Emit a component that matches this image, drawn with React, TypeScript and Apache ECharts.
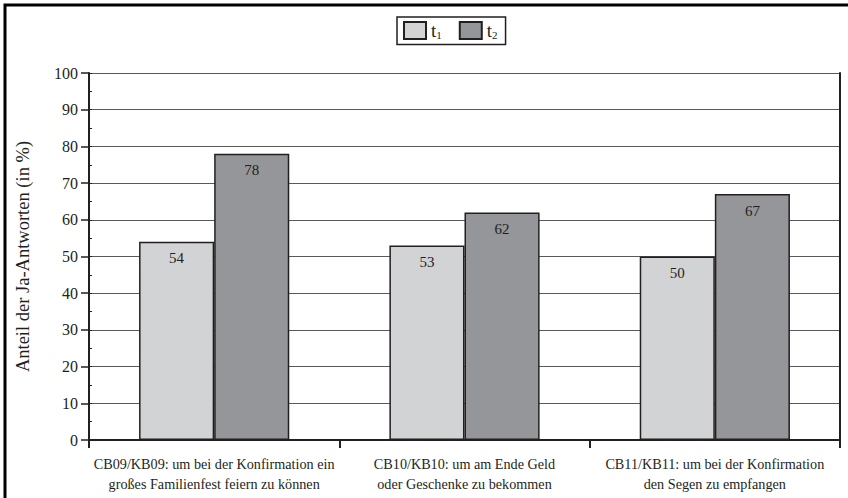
import React, { useEffect, useRef } from "react";
import * as echarts from "echarts";

const categories = [
  "CB09/KB09: um bei der Konfirmation ein\ngroßes Familienfest feiern zu können",
  "CB10/KB10: um am Ende Geld\noder Geschenke zu bekommen",
  "CB11/KB11: um bei der Konfirmation\nden Segen zu empfangen",
];
const seriesNames = ["t1", "t2"];
const t1Values = [54, 53, 50];
const t2Values = [78, 62, 67];
const yTitle = "Anteil der Ja-Antworten (in %)";

const FONT = "Liberation Serif";
const INK = "#231f20";

export default function App() {
  const ref = useRef<HTMLDivElement>(null);
  useEffect(() => {
    if (!ref.current) return;
    const chart = echarts.init(ref.current, null, { renderer: "svg" });
    const labelCfg = {
      show: true,
      position: "insideTop",
      distance: 9,
      color: INK,
      fontFamily: FONT,
      fontSize: 15,
    };
    chart.setOption({
      animation: false,
      backgroundColor: "#ffffff",
      textStyle: { fontFamily: FONT, color: INK },
      graphic: [
        {
          type: "rect",
          shape: { x: 5, y: 5, width: 900, height: 600 },
          style: { fill: "none", stroke: "#000", lineWidth: 3 },
          silent: true,
          z: 100,
        },
      ],
      legend: {
        left: 397,
        top: 17,
        padding: [4, 8, 4, 6],
        borderColor: INK,
        borderWidth: 1.5,
        icon: "rect",
        itemWidth: 22,
        itemHeight: 17,
        itemGap: 17,
        data: seriesNames,
        formatter: (n: string) => `{a|t}{b|${n.slice(1)}}`,
        textStyle: {
          fontFamily: FONT,
          color: INK,
          rich: {
            a: { fontFamily: FONT, fontSize: 19, color: INK },
            b: { fontFamily: FONT, fontSize: 11, color: INK, padding: [9, 0, 0, 0] },
          },
        },
      },
      grid: { left: 89, right: 8, top: 73, bottom: 58, containLabel: false },
      xAxis: [
        {
          type: "category",
          data: categories,
          position: "bottom",
          axisLine: { lineStyle: { color: INK, width: 2 } },
          axisTick: { show: true, length: 8, lineStyle: { color: INK, width: 2 } },
          axisLabel: {
            fontFamily: FONT,
            fontSize: 14.2,
            color: INK,
            lineHeight: 20,
            margin: 14,
            interval: 0,
          },
        },
        {
          type: "category",
          data: categories,
          position: "top",
          axisLine: { lineStyle: { color: INK, width: 2 } },
          axisTick: { show: false },
          axisLabel: { show: false },
        },
      ],
      yAxis: [
        {
          type: "value",
          min: 0,
          max: 100,
          interval: 10,
          name: yTitle,
          nameLocation: "middle",
          nameGap: 57,
          nameTextStyle: { fontFamily: FONT, fontSize: 18.5, color: INK },
          axisLine: { show: true, lineStyle: { color: INK, width: 2 } },
          axisTick: { show: true, length: 8, lineStyle: { color: INK, width: 1.5 } },
          axisLabel: { fontFamily: FONT, fontSize: 16, color: INK, margin: 11 },
          splitLine: { show: true, lineStyle: { color: "#58595b", width: 1.2 } },
        },
        {
          type: "value",
          min: 0,
          max: 100,
          interval: 5,
          position: "left",
          axisLine: { show: false },
          axisTick: { show: true, inside: true, length: 3, lineStyle: { color: INK, width: 1 } },
          axisLabel: { show: false },
          splitLine: { show: false },
        },
        {
          type: "value",
          min: 0,
          max: 100,
          interval: 10,
          position: "right",
          axisLine: { show: true, lineStyle: { color: INK, width: 2 } },
          axisTick: { show: false },
          axisLabel: { show: false },
          splitLine: { show: false },
        },
      ],
      series: [
        {
          name: seriesNames[0],
          type: "bar",
          data: t1Values,
          barWidth: "30%",
          barGap: "0%",
          itemStyle: { color: "#d2d3d5", borderColor: INK, borderWidth: 1.5 },
          label: labelCfg,
        },
        {
          name: seriesNames[1],
          type: "bar",
          data: t2Values,
          barWidth: "30%",
          barGap: "0%",
          itemStyle: { color: "#959699", borderColor: INK, borderWidth: 1.5 },
          label: labelCfg,
        },
      ],
    });
    return () => chart.dispose();
  }, []);
  return (
    <div
      ref={ref}
      style={{ position: "fixed", left: 0, top: 0, width: 848, height: 498 }}
    />
  );
}
